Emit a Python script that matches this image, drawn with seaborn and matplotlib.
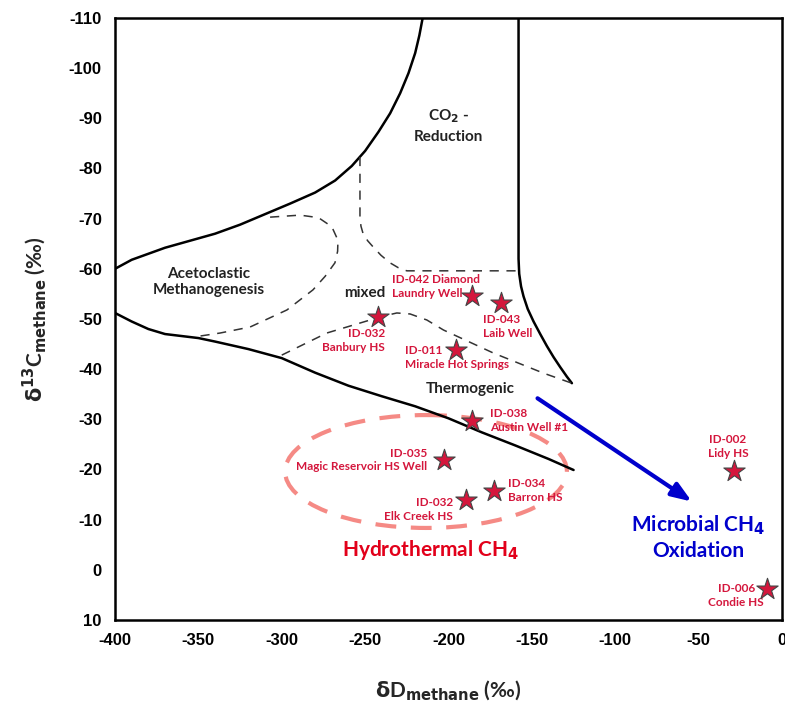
import numpy as np
import pandas as pd
import seaborn as sns
import matplotlib.pyplot as plt
from matplotlib.patches import Ellipse

# sample points (dD, d13C of methane)
sample_ids = ['ID-042 Diamond', 'ID-043', 'ID-032', 'ID-011', 'ID-038',
              'ID-035', 'ID-034', 'ID-032', 'ID-002', 'ID-006']
sample_names = ['Laundry Well', 'Laib Well', 'Banbury HS', 'Miracle Hot Springs',
                'Austin Well #1', 'Magic Reservoir HS Well', 'Barron HS',
                'Elk Creek HS', 'Lidy HS', 'Condie HS']
dD = [-186, -168.5, -242, -195.5, -186, -203, -173, -189.5, -29, -9]
d13C = [-54.6, -53.2, -50.4, -43.8, -29.7, -21.9, -15.7, -13.9, -19.7, 3.8]

# label anchor points
label_x = [-233.9, -179.3, -238.1, -226.1, -175.1, -212.9, -164.3, -197.3, -32.4, -27.5]
label_y = [-56.5, -48.5, -45.7, -42.3, -29.8, -21.9, -15.8, -12.0, -24.6, 5.1]
label_ha = ['left', 'left', 'right', 'left', 'left', 'right', 'left', 'right',
            'center', 'center']

# field boundaries (solid)
upper_x = [-400, -390, -380, -370, -355, -340, -325, -310, -295, -280, -268, -258,
           -250, -242, -235, -229, -224, -220, -217.5, -215.5]
upper_y = [-60, -61.8, -63, -64.2, -65.6, -67, -68.8, -70.9, -73, -75.2, -77.6, -80.5,
           -83.5, -87.3, -91, -95, -99, -103, -106.5, -110]
lower_x = [-400, -390, -380, -370, -360, -350, -340, -320, -300, -280, -260, -240,
           -220, -200, -180, -160, -140, -125]
lower_y = [-51.2, -49.5, -48, -47, -46.6, -46.2, -45.5, -44, -42.2, -39.3, -36.7, -34.6,
           -32.6, -30.2, -27.4, -24.8, -22.1, -19.9]
right_x = [-158, -158, -157.6, -156.5, -155, -152.5, -149, -145, -141, -137, -133, -129, -126]
right_y = [-110, -62, -59, -56.5, -54.5, -52, -49.5, -47, -44.6, -42.4, -40.4, -38.5, -37.2]

# field boundaries (dashed)
aceto_x = [-307, -289, -278, -270, -266.3, -266.5, -268.1, -274, -281.3, -296.9, -319, -337, -353]
aceto_y = [-70.3, -70.7, -70.2, -68.4, -65.7, -63.5, -61.2, -58.5, -55.8, -51.8, -48.4, -47.2, -46.4]
co2_x = [-253.1, -253.1, -252.5, -251.3, -248.5, -245.3, -240.5, -235.1, -230, -225, -158.3]
co2_y = [-82.3, -70.3, -68.5, -67.1, -65.6, -64.4, -62.7, -61.2, -60.2, -59.6, -59.6]
thermo_x = [-300, -273, -253, -240, -231, -223, -213, -203, -173, -143, -126]
thermo_y = [-42.8, -47.2, -49.2, -50.5, -51.2, -51, -49.8, -47.8, -43.2, -39.2, -37.2]

df = pd.DataFrame({'dD': dD, 'd13C': d13C})

sns.set_style('white')
plt.rcParams['font.family'] = ['Lato', 'DejaVu Sans']
plt.rcParams['mathtext.default'] = 'bf'
plt.rcParams['axes.unicode_minus'] = False

fig, ax = plt.subplots(figsize=(7.85, 7.02), dpi=100)
fig.subplots_adjust(left=0.1465, right=0.9962, top=0.9744, bottom=0.1168)

for xs, ys in [(upper_x, upper_y), (lower_x, lower_y), (right_x, right_y)]:
    ax.plot(xs, ys, color='black', lw=1.8, solid_joinstyle='round')
for xs, ys in [(aceto_x, aceto_y), (co2_x, co2_y), (thermo_x, thermo_y)]:
    ax.plot(xs, ys, color='#333333', lw=1.1, ls=(0, (6, 5)))

ax.add_patch(Ellipse((-213.5, -19.6), 169, 22.5, fill=False, edgecolor='#F58A85',
                     lw=3, ls=(0, (5, 3.5))))

ax.annotate('', xy=(-52.7, -13.3), xytext=(-148, -34.5),
            arrowprops=dict(arrowstyle='-|>,head_length=1.2,head_width=0.45',
                            color='#0000CC', lw=3))

sns.scatterplot(data=df, x='dD', y='d13C', marker='*', s=260, color='#D4163C',
                edgecolor='#444444', linewidth=0.8, zorder=5, ax=ax)

for i in range(len(dD)):
    ax.text(label_x[i], label_y[i], sample_ids[i] + '\n' + sample_names[i],
            ha=label_ha[i], va='center', fontsize=8.5, fontweight='bold',
            color='#D4163C', linespacing=1.3)

ax.text(-200, -88.5, 'CO$_2$ -\nReduction', ha='center', va='center',
        fontsize=11, fontweight='bold', color='#222222', linespacing=1.4)
ax.text(-344, -57.4, 'Acetoclastic\nMethanogenesis', ha='center', va='center',
        fontsize=11, fontweight='bold', color='#222222', linespacing=1.2)
ax.text(-250, -55.2, 'mixed', ha='center', va='center',
        fontsize=11, fontweight='bold', color='#222222')
ax.text(-187, -36, 'Thermogenic', ha='center', va='center',
        fontsize=11, fontweight='bold', color='#222222')
ax.text(-211, -3.9, 'Hydrothermal CH$_4$', ha='center', va='center',
        fontsize=15, fontweight='bold', color='#E2001A')
ax.text(-50, -6.5, 'Microbial CH$_4$\nOxidation', ha='center', va='center',
        fontsize=15, fontweight='bold', color='#0000CC', linespacing=1.3)

ax.set_xlim(-400, 0)
ax.set_ylim(10, -110)
ax.set_xticks(np.arange(-400, 1, 50))
ax.set_yticks(np.arange(-110, 11, 10))
ax.tick_params(axis='both', direction='out', length=6, width=1.5, labelsize=12,
               colors='black')
for lab in ax.get_xticklabels() + ax.get_yticklabels():
    lab.set_fontweight('bold')
    lab.set_family(['Liberation Sans', 'DejaVu Sans'])
for sp in ax.spines.values():
    sp.set_color('black')
    sp.set_linewidth(1.8)

ax.set_xlabel(r'$\delta$D$_{methane}$ (‰)', fontsize=15, fontweight='bold', labelpad=22)
ax.set_ylabel(r'$\delta^{13}$C$_{methane}$ (‰)', fontsize=15, fontweight='bold', labelpad=14)

fig.savefig('out.png', dpi=100)
